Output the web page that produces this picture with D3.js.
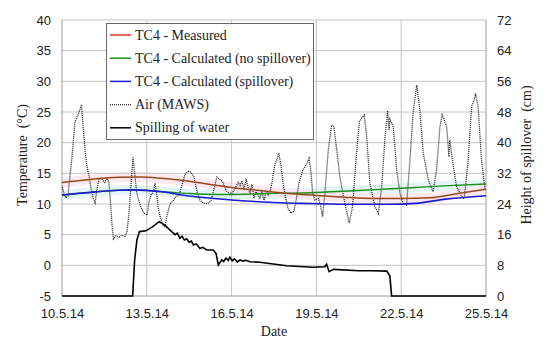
<!DOCTYPE html>
<html>
<head>
<meta charset="utf-8">
<script src="https://cdn.jsdelivr.net/npm/d3@7"></script>
<style>
  body { margin: 0; background: #fff; }
  .grid { stroke: #c4c4c4; stroke-width: 1; }
  .frame { stroke: #9a9a9a; stroke-width: 1; fill: none; }
</style>
</head>
<body>
<script>
var w = 550;
var h = 347;
var serif = "'Liberation Serif', 'Times New Roman', Times, 'Nimbus Roman', 'Nimbus Roman No9 L', FreeSerif, 'Noto Serif', 'DejaVu Serif', serif";

// days counted from 10.5.14 00:00
var measured = [[0,13.5],[1,14.0],[2,14.35],[2.8,14.4],[3.5,14.2],[4.5,13.7],[5.5,13.0],[6,12.7],[7,12.2],[8,11.7],[9,11.4],[10,11.1],[11,10.9],[12,10.9],[13,11.0],[14,11.7],[15,12.4]];
var noSpill = [[0,11.45],[1,11.9],[2,12.25],[2.5,12.3],[3.5,12.05],[4.5,11.7],[5.5,11.55],[6.5,11.6],[7.5,11.75],[8.5,11.8],[9.5,12.0],[10.5,12.2],[11.5,12.45],[12.5,12.7],[13.5,12.95],[15,13.25]];
var spill = [[0,11.45],[1,11.9],[2,12.25],[2.5,12.3],[3.5,12.0],[4.5,11.3],[5.5,10.85],[6.5,10.5],[7.5,10.25],[8.5,10.1],[9.5,10.0],[10.5,9.95],[11.5,9.95],[12.5,10.1],[13.5,10.75],[15,11.35]];

var air = [[0,12.8],[0.07,11.8],[0.14,11.0],[0.21,11.3],[0.28,14.5],[0.35,17.5],[0.46,23.5],[0.57,24.5],[0.64,25.5],[0.69,26.2],[0.74,23],[0.81,19],[0.88,16.2],[0.96,14.5],[1.03,12.5],[1.10,11],[1.17,10.2],[1.24,12.5],[1.31,14],[1.38,14.2],[1.45,13.8],[1.52,13.5],[1.59,14.2],[1.66,13.5],[1.72,10],[1.77,6.5],[1.82,4.3],[1.91,4.8],[2.02,4.6],[2.12,4.9],[2.23,4.7],[2.30,5.5],[2.37,8.5],[2.44,13],[2.51,17.6],[2.56,15.5],[2.64,12],[2.72,10.5],[2.79,9.5],[2.90,8.5],[3.01,8.2],[3.08,10.5],[3.15,11.5],[3.22,11.8],[3.29,13.4],[3.34,12],[3.40,9.5],[3.47,8],[3.57,6.5],[3.64,6.3],[3.71,8],[3.82,10],[3.93,10.5],[4.03,11.2],[4.14,11.5],[4.24,13],[4.35,14.8],[4.46,15.3],[4.56,15.2],[4.67,14.4],[4.78,12],[4.88,10.6],[5.02,10.1],[5.16,10.1],[5.27,10.5],[5.38,12.5],[5.48,14.4],[5.59,14],[5.70,13.5],[5.80,12.2],[5.91,11.8],[6.01,11.7],[6.12,12.5],[6.23,13.5],[6.30,13],[6.37,13.8],[6.44,12.5],[6.51,13.9],[6.58,12.8],[6.65,11.8],[6.72,13.2],[6.79,11],[6.86,12],[6.93,11.5],[7.00,11],[7.07,12],[7.15,10.6],[7.22,12],[7.29,11.5],[7.36,12],[7.43,13.5],[7.53,16.5],[7.60,17.2],[7.67,18.3],[7.74,16.5],[7.82,13.5],[7.89,11.5],[7.99,9.3],[8.10,8.5],[8.20,8.8],[8.28,10.5],[8.38,13.4],[8.52,15.5],[8.66,16.6],[8.74,17.45],[8.80,15.5],[8.87,11.7],[8.95,10.65],[9.07,10.9],[9.13,10.1],[9.22,7.9],[9.30,11.7],[9.42,18.8],[9.54,22.9],[9.62,22.6],[9.72,18.8],[9.83,14.4],[10.01,10.1],[10.16,6.9],[10.28,9.6],[10.40,17.2],[10.52,23.4],[10.60,24],[10.69,24.5],[10.78,21],[10.89,13.4],[11.07,9.6],[11.19,8.5],[11.31,12.8],[11.43,21],[11.52,25.2],[11.57,22.1],[11.60,23.8],[11.72,22.6],[11.84,15.5],[11.96,11.7],[12.07,10.1],[12.19,9.8],[12.31,17.2],[12.43,25.3],[12.55,29.4],[12.66,25.3],[12.78,18.3],[12.96,13.9],[13.13,12.0],[13.25,15.5],[13.37,22.6],[13.45,24.5],[13.52,23.7],[13.61,22.6],[13.69,17.7],[13.72,20.4],[13.81,17.2],[13.96,12.8],[14.14,11.2],[14.23,10.9],[14.37,17.2],[14.49,25.9],[14.58,27],[14.63,28],[14.72,25.9],[14.84,17.2],[14.96,12.5]];

// height of spillover in cm (right axis)
var water = [[0,0],[2.5,0],[2.57,9.4],[2.65,14.6],[2.74,16.8],[2.97,17.0],[3.21,18.1],[3.44,19.4],[3.64,18.5],[3.88,16.8],[4.0,16.0],[4.08,16.4],[4.17,15.1],[4.25,15.6],[4.33,14.6],[4.41,14.9],[4.5,14.0],[4.58,14.3],[4.65,13.3],[4.75,13.6],[4.88,12.4],[4.98,12.7],[5.12,12.0],[5.35,12.0],[5.45,11.1],[5.53,8.1],[5.65,9.4],[5.72,9.0],[5.8,9.9],[5.88,9.3],[5.94,10.1],[6.02,9.2],[6.1,9.7],[6.2,8.9],[6.3,9.4],[6.4,9.1],[6.5,9.3],[6.65,8.95],[7.0,8.8],[7.47,8.35],[7.95,7.9],[8.42,7.7],[8.89,7.5],[9.30,7.65],[9.36,8.3],[9.45,6.35],[9.60,6.95],[10.5,6.6],[11.0,6.6],[11.49,6.5],[11.6,5.2],[11.66,0],[15,0]];

var tempTicks = [-5, 0, 5, 10, 15, 20, 25, 30, 35, 40];
var heightTicks = [0, 8, 16, 24, 32, 40, 48, 56, 64, 72];
var legendNames = ["TC4 - Measured", "TC4 - Calculated (no spillover)", "TC4 - Calculated (spillover)", "Air (MAWS)", "Spilling of water"];
var legendColors = ["#e0302a", "#1a8f1a", "#1a1ad0", "#333", "#000"];

var start = new Date(2014, 4, 10);
function day(d) { return new Date(start.getTime() + d * 86400000); }

var svg = d3.select("body")
    .append("svg")
    .attr("width", w)
    .attr("height", h)
    .attr("font-family", serif);

var xScale = d3.scaleTime()
    .domain([start, day(15)])
    .range([62, 486]);

var yScale = d3.scaleLinear()
    .domain([-5, 40])
    .range([296, 20]);

var y2Scale = d3.scaleLinear()
    .domain([0, 72])
    .range([296, 20]);

var xTicks = [0, 3, 6, 9, 12, 15].map(day);

// shaded bands
var band = function(off) {
  return d3.area()
    .curve(d3.curveMonotoneX)
    .x(function(d) { return xScale(day(d[0])); })
    .y0(function(d) { return yScale(d[1] - off); })
    .y1(function(d) { return yScale(d[1] + off); });
};

svg.append("path")
    .datum(noSpill)
    .attr("fill", "#e3f6f6")
    .attr("d", band(0.8));

svg.append("path")
    .datum(measured)
    .attr("fill", "#fce4ee")
    .attr("opacity", 0.85)
    .attr("d", band(0.8));

// grid
svg.selectAll(".hgrid")
    .data(tempTicks.slice(1))
    .enter()
    .append("line")
    .attr("class", "grid")
    .attr("x1", 62)
    .attr("x2", 486)
    .attr("y1", function(d) { return yScale(d); })
    .attr("y2", function(d) { return yScale(d); });

svg.selectAll(".vgrid")
    .data(xTicks.slice(1, 5))
    .enter()
    .append("line")
    .attr("class", "grid")
    .attr("y1", 20)
    .attr("y2", 296)
    .attr("x1", function(d) { return xScale(d); })
    .attr("x2", function(d) { return xScale(d); });

svg.append("line").attr("class", "frame").attr("x1", 62).attr("x2", 62).attr("y1", 20).attr("y2", 296);
svg.append("line").attr("class", "frame").attr("x1", 486).attr("x2", 486).attr("y1", 20).attr("y2", 296);
svg.append("line").attr("class", "frame").attr("x1", 62).attr("x2", 486).attr("y1", 296).attr("y2", 296);

// axes
var xAxis = d3.axisBottom(xScale)
    .tickValues(xTicks)
    .tickSize(0)
    .tickPadding(13)
    .tickFormat(d3.timeFormat("%-d.%-m.%y"));

var yAxis = d3.axisLeft(yScale)
    .tickValues(tempTicks)
    .tickSize(0)
    .tickPadding(11)
    .tickFormat(function(d) { return String(d); });

var y2Axis = d3.axisRight(y2Scale)
    .tickValues(heightTicks)
    .tickSize(0)
    .tickPadding(11)
    .tickFormat(function(d) { return String(d); });

svg.append("g").attr("transform", "translate(0,296)").call(xAxis);
svg.append("g").attr("transform", "translate(62,0)").call(yAxis);
svg.append("g").attr("transform", "translate(486,0)").call(y2Axis);

svg.selectAll(".domain").remove();
svg.selectAll(".tick text")
    .attr("font-size", 13)
    .attr("fill", "#222");

// lines
var tLine = d3.line()
    .x(function(d) { return xScale(day(d[0])); })
    .y(function(d) { return yScale(d[1]); });

var smooth = d3.line()
    .curve(d3.curveMonotoneX)
    .x(function(d) { return xScale(day(d[0])); })
    .y(function(d) { return yScale(d[1]); });

var hLine = d3.line()
    .x(function(d) { return xScale(day(d[0])); })
    .y(function(d) { return y2Scale(d[1]); });

svg.append("path")
    .datum(water)
    .attr("fill", "none")
    .attr("stroke", "#000")
    .attr("stroke-width", 1.6)
    .attr("d", hLine);

svg.append("path")
    .datum(air)
    .attr("fill", "none")
    .attr("stroke", "#222")
    .attr("stroke-width", 1.3)
    .attr("stroke-dasharray", "1,1")
    .attr("d", tLine);

svg.append("path")
    .datum(noSpill)
    .attr("fill", "none")
    .attr("stroke", "#1a8f1a")
    .attr("stroke-width", 1.4)
    .attr("d", smooth);

svg.append("path")
    .datum(spill)
    .attr("fill", "none")
    .attr("stroke", "#1a1ad0")
    .attr("stroke-width", 1.6)
    .attr("d", smooth);

svg.append("path")
    .datum(measured)
    .attr("fill", "none")
    .attr("stroke", "#964a1c")
    .attr("stroke-width", 1.5)
    .attr("d", smooth);

// legend
svg.append("rect")
    .attr("x", 106.5)
    .attr("y", 23.5)
    .attr("width", 207)
    .attr("height", 116)
    .attr("fill", "#fff")
    .attr("stroke", "#6a6a6a")
    .attr("stroke-width", 1);

var leg = svg.selectAll(".leg")
    .data(legendNames)
    .enter()
    .append("g")
    .attr("transform", function(d, i) { return "translate(0," + (35 + i * 23.2) + ")"; });

leg.append("line")
    .attr("x1", 110)
    .attr("x2", 131)
    .attr("stroke", function(d, i) { return legendColors[i]; })
    .attr("stroke-width", function(d, i) { return i == 3 ? 1.3 : 1.5; })
    .attr("stroke-dasharray", function(d, i) { return i == 3 ? "1,1" : null; });

leg.append("text")
    .attr("x", 135)
    .attr("dy", "0.33em")
    .attr("font-size", 14)
    .attr("fill", "#222")
    .text(function(d) { return d; });

// titles
svg.append("text")
    .attr("transform", "translate(27,155) rotate(-90)")
    .attr("text-anchor", "middle")
    .attr("font-size", 14)
    .attr("fill", "#222")
    .style("white-space", "pre")
    .text("Temperature  (°C)");

svg.append("text")
    .attr("transform", "translate(531,155) rotate(-90)")
    .attr("text-anchor", "middle")
    .attr("font-size", 14)
    .attr("fill", "#222")
    .style("white-space", "pre")
    .text("Height of spillover  (cm)");

svg.append("text")
    .attr("x", 274)
    .attr("y", 336)
    .attr("text-anchor", "middle")
    .attr("font-size", 14)
    .attr("fill", "#222")
    .text("Date");
</script>
</body>
</html>
